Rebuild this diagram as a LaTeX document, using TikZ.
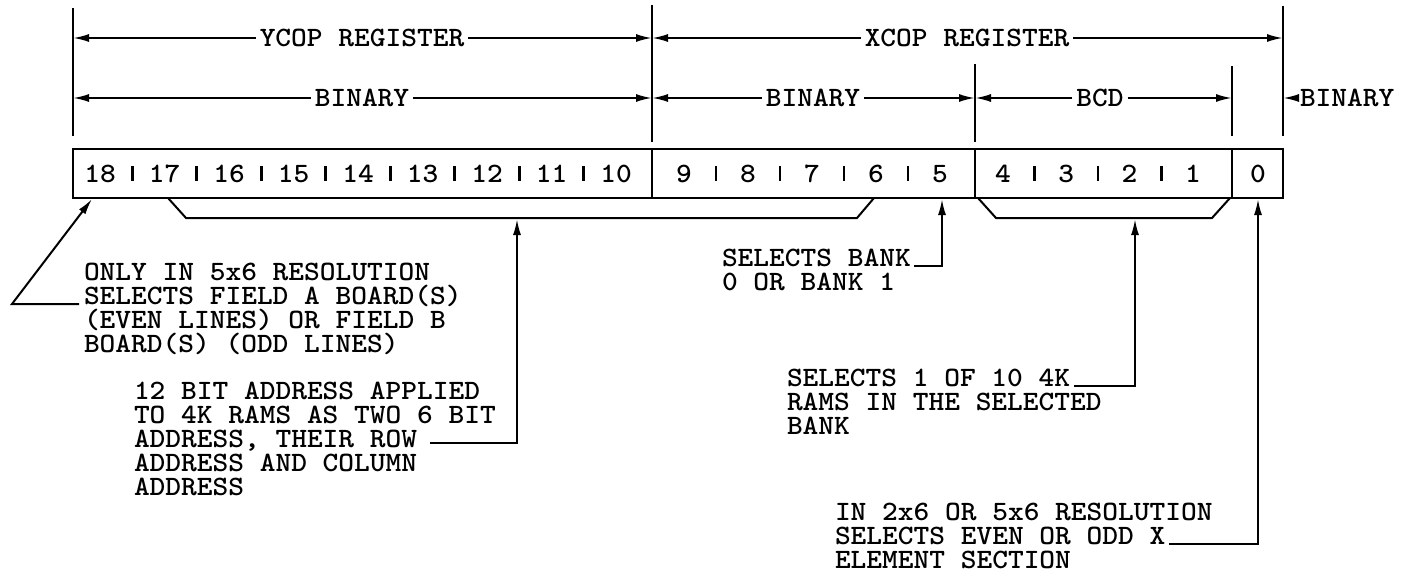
\documentclass[tikz,border=0pt]{standalone}
\usetikzlibrary{arrows.meta, calc}
\newcommand{\lblfont}{\fontsize{28}{24}\selectfont\ttfamily\bfseries}
\newcommand{\wide}[1]{\scalebox{1.07}[1]{#1}}

\begin{document}
\begin{tikzpicture}
    	[x=1pt, y=-1pt, line width=2pt,
    	 txt/.style={font=\lblfont, inner sep=0pt, anchor=base west,
    	 	text height=16pt, text depth=3pt},
    	 dimlbl/.style={font=\lblfont, inner sep=3pt, fill=white},
    	 num/.style={font=\lblfont, inner sep=0pt},
    	 tip/.style={-{Latex[length=16pt, width=8pt]}}]
    	\useasboundingbox (0,0) rectangle (1403,575);

    	% limits of the fields
    	\coordinate (vA) at (73,0);
    	\coordinate (vB) at (652,0);
    	\coordinate (vC) at (975,0);
    	\coordinate (vD) at (1232,0);
    	\coordinate (vE) at (1283,0);
    	\draw (73,8) -- (73,136);
    	\draw (652,5) -- (652,142);
    	\draw (1283,6) -- (1283,136);
    	\draw (975,64) -- (975,142);
    	\draw (1232,66) -- (1232,136);

    	% register names
    	\node[dimlbl] (ycop) at (362,38) {\wide{YCOP REGISTER}};
    	\draw[tip] (ycop.west) -- (ycop.west -| vA);
    	\draw[tip] (ycop.east) -- (ycop.east -| vB);
    	\node[dimlbl] (xcop) at (967,38) {\wide{XCOP REGISTER}};
    	\draw[tip] (xcop.west) -- (xcop.west -| vB);
    	\draw[tip] (xcop.east) -- (xcop.east -| vE);

    	% codes
    	\node[dimlbl] (binY) at (362,98) {\wide{BINARY}};
    	\draw[tip] (binY.west) -- (binY.west -| vA);
    	\draw[tip] (binY.east) -- (binY.east -| vB);
    	\node[dimlbl] (binX) at (813,98) {\wide{BINARY}};
    	\draw[tip] (binX.west) -- (binX.west -| vB);
    	\draw[tip] (binX.east) -- (binX.east -| vC);
    	\node[dimlbl] (bcd) at (1100,98) {\wide{BCD}};
    	\draw[tip] (bcd.west) -- (bcd.west -| vC);
    	\draw[tip] (bcd.east) -- (bcd.east -| vD);
    	\node[dimlbl, anchor=west, inner sep=1pt] (binZ) at (1298,98) {\wide{BINARY}};
    	\draw[tip] (binZ.west) -- (binZ.west -| vE);

    	% the register
    	\draw[line width=2.6pt] (73,149) rectangle (1283,198);
    	\draw[line width=2.6pt] (652,149) -- (652,198);
    	\draw[line width=2.6pt] (975,149) -- (975,198);
    	\draw[line width=2.6pt] (1232,149) -- (1232,198);
    	\foreach \n [count=\i from 0] in {18,17,16,15,14,13,12,11,10}
    		\node[num] (b\n) at (100+64.5*\i,174) {\wide{\n}};
    	\foreach \n [count=\i from 0] in {9,8,7,6,5}
    		\node[num] (b\n) at (684+64*\i,174) {\wide{\n}};
    	\foreach \n [count=\i from 0] in {4,3,2,1}
    		\node[num] (b\n) at (1003+63.3*\i,174) {\wide{\n}};
    	\node[num] (b0) at (1258,174) {\wide{0}};
    	\foreach \a/\b in {18/17,17/16,16/15,15/14,14/13,13/12,12/11,11/10,
    			9/8,8/7,7/6,6/5,4/3,3/2,2/1}
    		\draw[line width=2.6pt] ($(b\a)!0.5!(b\b)+(0,-8)$) -- ++(0,15);

    	% brackets
    	\draw (168,198) -- (186,218) -- (857,218) -- (874,198);
    	\draw (978,198) -- (996,218) -- (1212,218) -- (1230,198);

    	% notes
    	\node[txt] (a1) at (83,280) {\wide{ONLY IN 5x6 RESOLUTION}};
    	\node[txt] (a2) at (83,304) {\wide{SELECTS FIELD A BOARD(S)}};
    	\node[txt] (a3) at (83,328) {\wide{(EVEN LINES) OR FIELD B}};
    	\node[txt] (a4) at (83,352) {\wide{BOARD(S) (ODD LINES)}};

    	\node[txt] (c1) at (721,266) {\wide{SELECTS BANK}};
    	\node[txt] (c2) at (721,290) {\wide{0 OR BANK 1}};

    	\node[txt] (d1) at (786,386) {\wide{SELECTS 1 OF 10 4K}};
    	\node[txt] (d2) at (786,410) {\wide{RAMS IN THE SELECTED}};
    	\node[txt] (d3) at (786,434) {\wide{BANK}};

    	\node[txt] (e1) at (834,520) {\wide{IN 2x6 OR 5x6 RESOLUTION}};
    	\node[txt] (e2) at (834,544) {\wide{SELECTS EVEN OR ODD X}};
    	\node[txt] (e3) at (834,568) {\wide{ELEMENT SECTION}};

    	\node[txt] (f1) at (133,399) {\wide{12 BIT ADDRESS APPLIED}};
    	\node[txt] (f2) at (133,423) {\wide{TO 4K RAMS AS TWO 6 BIT}};
    	\node[txt] (f3) at (133,447) {\wide{ADDRESS, THEIR ROW}};
    	\node[txt] (f4) at (133,471) {\wide{ADDRESS AND COLUMN}};
    	\node[txt] (f5) at (133,495) {\wide{ADDRESS}};

    	% pointers
    	\coordinate (k18) at (12,304);
    	\draw[tip] ($(a2.base west)+(-4,0)$) -- (k18) -- (92,199);
    	\draw[tip] ($(f3.base east)+(12,-4)$) -| (517,219);
    	\draw[tip] ($(c1.base east)+(2,0)$) -| (942,199);
    	\draw[tip] ($(d1.base east)+(3,0)$) -| (1135,219);
    	\draw[tip] ($(e2.base east)+(3,0)$) -| (1258,199);
\end{tikzpicture}
\end{document}
